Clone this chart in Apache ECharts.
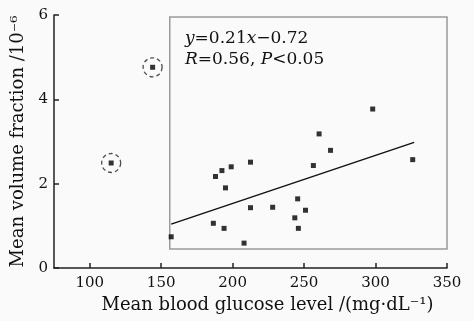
<!DOCTYPE html>
<html>
<head>
<meta charset="utf-8">
<script src="https://cdn.jsdelivr.net/npm/echarts@6/dist/echarts.min.js"></script>
<style>
  html, body { margin: 0; padding: 0; background: #fafafa; }
  #chart { width: 474px; height: 321px; }
</style>
</head>
<body>
<div id="chart"></div>
<script>
// data
const glucose = [157, 186.5, 194, 208, 188, 192.5, 199, 195, 212.5, 212.5, 228, 245.5, 243.5, 251, 246, 256.5, 260.5, 268.5, 298, 326]
const volume = [0.74, 1.06, 0.94, 0.59, 2.17, 2.31, 2.40, 1.90, 2.51, 1.43, 1.44, 1.64, 1.19, 1.37, 0.94, 2.43, 3.18, 2.79, 3.77, 2.57]
const outlierGlucose = [115, 144]
const outlierVolume = [2.49, 4.76]
const fitX = [157, 327]
const fitY = [1.04, 2.98]
const insetX = [156, 350]
const insetY = [0.45, 5.95]
const xTicks = [100, 150, 200, 250, 300, 350]
const yTicks = [0, 2, 4, 6]

const serif = 'DejaVu Serif'
const chart = echarts.init(document.getElementById('chart'))

chart.setOption({
  backgroundColor: '#fafafa',
  animation: false,
  grid: { left: 54, right: 27, top: 15, bottom: 53 },
  xAxis: {
    type: 'value',
    min: 75,
    max: 350,
    name: 'Mean blood glucose level /(mg·dL⁻¹)',
    nameLocation: 'middle',
    nameGap: 26,
    nameTextStyle: { fontFamily: serif, fontSize: 18, color: '#111', padding: [0, 0, 0, 34] },
    axisLine: { lineStyle: { color: '#222', width: 1.5 } },
    axisTick: { inside: true, length: 5, customValues: xTicks, lineStyle: { color: '#222', width: 1.5 } },
    axisLabel: { customValues: xTicks, fontFamily: serif, fontSize: 15, color: '#111', margin: 8 },
    splitLine: { show: false }
  },
  yAxis: {
    type: 'value',
    min: 0,
    max: 6,
    interval: 2,
    name: 'Mean volume fraction /10⁻⁶',
    nameLocation: 'middle',
    nameRotate: 90,
    nameGap: 20,
    nameTextStyle: { fontFamily: serif, fontSize: 18, color: '#111' },
    axisLine: { lineStyle: { color: '#222', width: 1.5 } },
    axisTick: { inside: true, length: 5, lineStyle: { color: '#222', width: 1.5 } },
    axisLabel: { customValues: yTicks, fontFamily: serif, fontSize: 15, color: '#111', margin: 6 },
    splitLine: { show: false }
  },
  graphic: [{
    type: 'text',
    left: 185,
    top: 28,
    z: 100,
    style: {
      text: '{i|y}=0.21{i|x}−0.72\n{i|R}=0.56, {i|P}<0.05',
      font: '17px "DejaVu Serif"',
      fill: '#111',
      align: 'center',
      lineHeight: 21,
      rich: {
        i: { fontStyle: 'italic', fontFamily: serif, fontSize: 17, fill: '#111' }
      }
    }
  }],
  series: [
    {
      type: 'line',
      data: fitX.map((x, i) => [x, fitY[i]]),
      symbol: 'none',
      lineStyle: { color: '#111', width: 1.5 },
      z: 3,
      markArea: {
        silent: true,
        itemStyle: { color: 'rgba(0,0,0,0)', borderColor: '#9a9a9a', borderWidth: 1.5 },
        data: [[{ coord: [insetX[0], insetY[1]] }, { coord: [insetX[1], insetY[0]] }]]
      }
    },
    {
      type: 'scatter',
      data: glucose.map((x, i) => [x, volume[i]]),
      symbol: 'rect',
      symbolSize: 5,
      itemStyle: { color: '#000' },
      z: 4
    },
    {
      type: 'scatter',
      data: outlierGlucose.map((x, i) => [x, outlierVolume[i]]),
      symbol: 'rect',
      symbolSize: 5,
      itemStyle: { color: '#000' },
      z: 4
    },
    {
      type: 'scatter',
      data: outlierGlucose.map((x, i) => [x, outlierVolume[i]]),
      symbol: 'circle',
      symbolSize: 19,
      itemStyle: { color: 'rgba(0,0,0,0)', borderColor: '#222', borderWidth: 1.3, borderType: [4, 3] },
      z: 4
    }
  ]
})
</script>
</body>
</html>
